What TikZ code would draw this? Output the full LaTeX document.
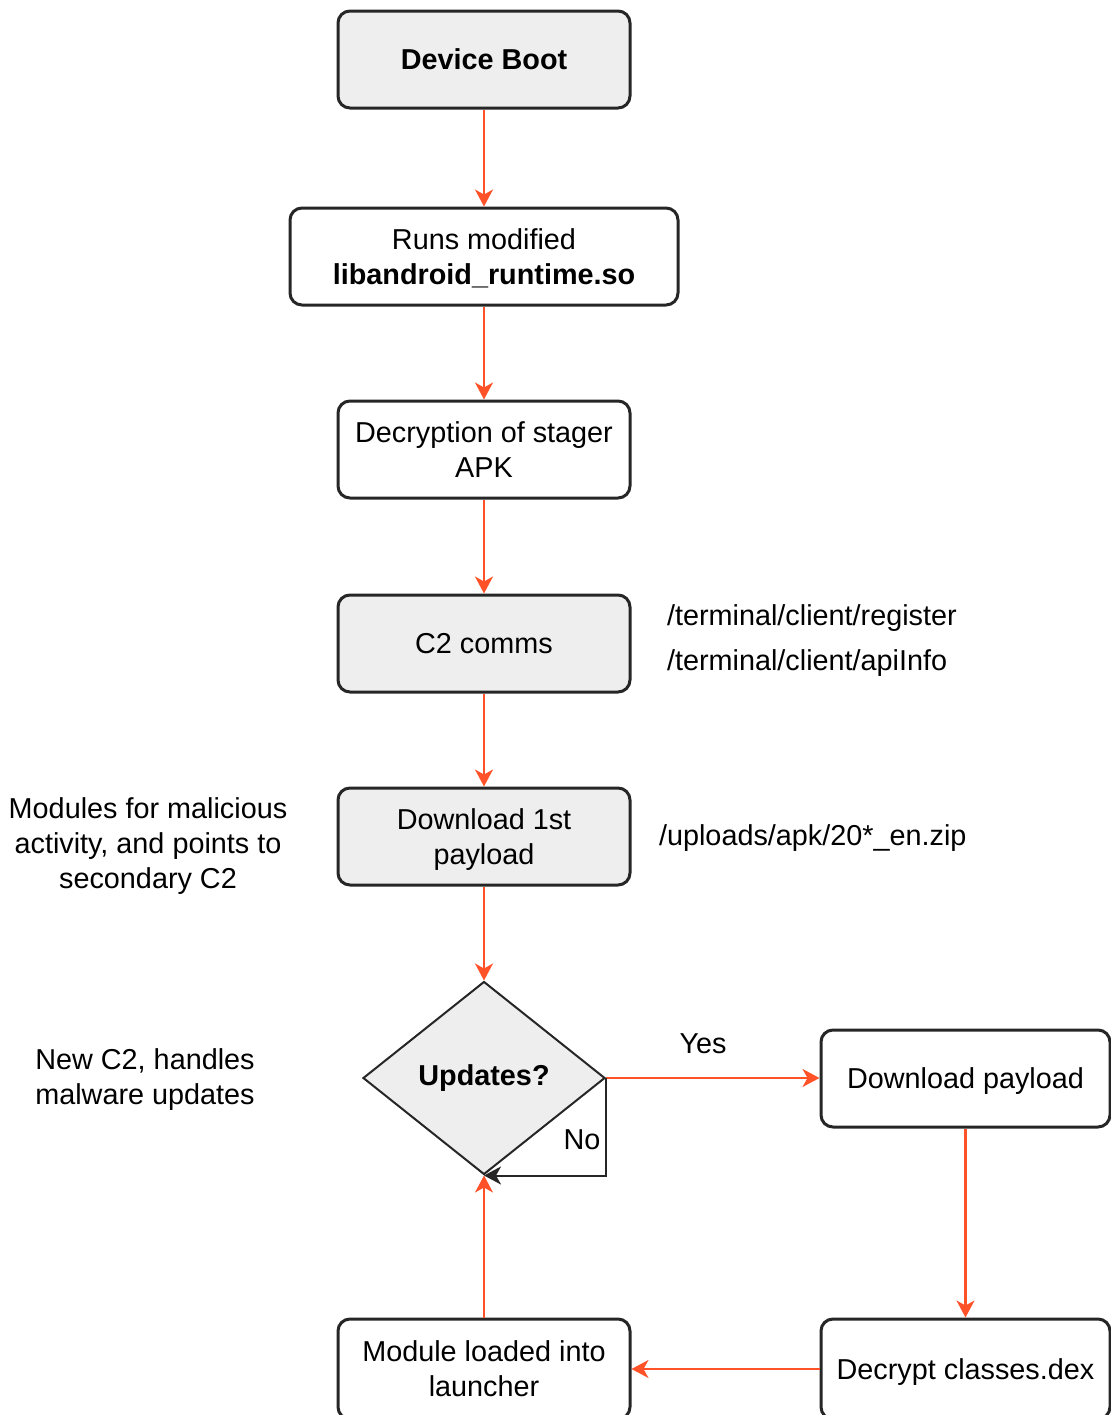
\documentclass[tikz,border=0pt]{standalone}
\usepackage{fontspec}
\setmainfont{Liberation Sans}
\usetikzlibrary{shapes.geometric,arrows.meta}
\definecolor{arr}{RGB}{255,82,40}
\definecolor{boxgray}{RGB}{238,238,238}
\begin{document}
\begin{tikzpicture}[x=0.5pt,y=-0.5pt,
  every node/.style={font=\fontsize{14.4}{17.5}\selectfont},
  box/.style={draw=black!85, line width=1.5pt, rounded corners=6pt, minimum width=146pt, minimum height=48.5pt, align=center, inner sep=2pt, text depth=0pt},
  graybox/.style={box, fill=boxgray},
  widebox/.style={box, minimum width=194pt},
  rightbox/.style={box, minimum width=144.5pt},
  lowbox/.style={minimum height=50pt},
  decision/.style={diamond, draw=black!85, fill=boxgray, line width=1pt, minimum width=121pt, minimum height=96.5pt, inner sep=0pt, aspect=1.25},
  flow/.style={draw=arr, line width=1.1pt, -{Stealth[length=8.5pt,width=9pt,inset=2.5pt]}},
  loopback/.style={draw=black!85, line width=1pt, -{Stealth[length=8.5pt,width=9pt,inset=2.5pt]}},
  note/.style={align=center}
]
\useasboundingbox (0,0) rectangle (1111,1415);
\clip (0,0) rectangle (1111,1415);

\node[graybox] (boot) at (484,59.5) {\textbf{Device Boot}};
\node[widebox] (runs) at (484,256.5) {Runs modified\\\textbf{libandroid\_runtime.so}};
\node[box] (dec) at (484,449.5) {Decryption of stager\\APK};
\node[graybox] (c2) at (484,643.5) {C2 comms};
\node[graybox] (dl1) at (484,836.5) {Download 1st\\payload};
\node[decision] (upd) at (484,1078) {\textbf{Updates?}};
\node[rightbox] (dlp) at (965.5,1078.5) {Download payload};
\node[rightbox, lowbox] (dcl) at (965.5,1369) {Decrypt classes.dex};
\node[box, lowbox] (mod) at (484,1369) {Module loaded into\\launcher};

\node[anchor=west] (reg) at (660,618) {/terminal/client/register};
\node[anchor=west] (api) at (660,663) {/terminal/client/apiInfo};
\node[anchor=west] (zip) at (652,838) {/uploads/apk/20*\_en.zip};
\node[note] (mods) at (148,846) {Modules for malicious\\activity, and points to\\secondary C2};
\node[note] (newc2) at (145,1080) {New C2, handles\\malware updates};
\node (yes) at (703,1044) {Yes};
\node (no) at (582,1140) {No};

\draw[flow] (boot) -- (runs);
\draw[flow] (runs) -- (dec);
\draw[flow] (dec) -- (c2);
\draw[flow] (c2) -- (dl1);
\draw[flow] (dl1.south) -- (upd.north);
\draw[flow] (upd.east) -- (upd.east -| dlp.west);
\draw[flow] (dlp) -- (dcl);
\draw[flow] (dcl) -- (mod);
\draw[flow] (mod.north) -- (upd.south);
\draw[loopback] (upd.east) |- (upd.south);
\end{tikzpicture}
\end{document}
